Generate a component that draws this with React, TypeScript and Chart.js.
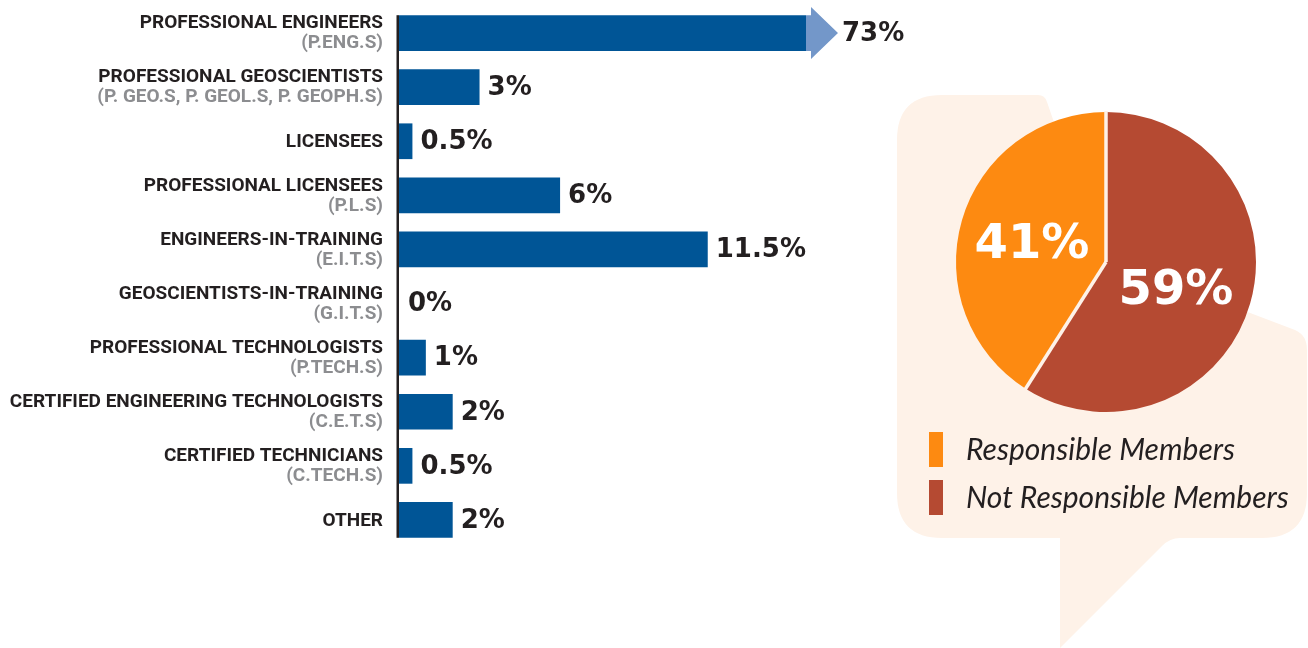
import { useEffect, useRef } from "react";
import { Chart, registerables } from "chart.js";

Chart.register(...registerables);

// ---------- data ----------
const categories = [
  "PROFESSIONAL ENGINEERS",
  "PROFESSIONAL GEOSCIENTISTS",
  "LICENSEES",
  "PROFESSIONAL LICENSEES",
  "ENGINEERS-IN-TRAINING",
  "GEOSCIENTISTS-IN-TRAINING",
  "PROFESSIONAL TECHNOLOGISTS",
  "CERTIFIED ENGINEERING TECHNOLOGISTS",
  "CERTIFIED TECHNICIANS",
  "OTHER",
];
const subLabels = [
  "(P.ENG.S)",
  "(P. GEO.S, P. GEOL.S, P. GEOPH.S)",
  "",
  "(P.L.S)",
  "(E.I.T.S)",
  "(G.I.T.S)",
  "(P.TECH.S)",
  "(C.E.T.S)",
  "(C.TECH.S)",
  "",
];
const values = [73, 3, 0.5, 6, 11.5, 0, 1, 2, 0.5, 2];
const axisMax = 15.16; // visible part of the axis; larger bars are broken with an arrow

const pieLabels = ["Responsible Members", "Not Responsible Members"];
const pieValues = [41, 59];

// ---------- styles ----------
const BLUE = "#005596";
const ARROW_BLUE = "#7397c9";
const DARK = "#231f20";
const GREY = "#8c8d90";
const ORANGE = "#fd8a11";
const RED = "#b54a32";
const BUBBLE = "#fef2e8";
const pieColors = [ORANGE, RED];

const barDecorPlugin = {
  id: "barDecor",
  afterDatasetsDraw(chart: any) {
    const ctx: CanvasRenderingContext2D = chart.ctx;
    const area = chart.chartArea;
    const meta = chart.getDatasetMeta(0);
    const bars = meta.data;
    const first = bars[0];
    const last = bars[bars.length - 1];
    ctx.save();
    // axis line
    ctx.fillStyle = DARK;
    const top = first.y - first.height / 2;
    const bottom = last.y + last.height / 2;
    ctx.fillRect(area.left - 2.5, top, 2.5, bottom - top);

    bars.forEach((bar: any, i: number) => {
      let end = Math.max(bar.x, area.left + 1);
      const h = bar.height;
      if (bar.x > area.right) {
        // broken bar arrow
        const x0 = area.right;
        ctx.fillStyle = ARROW_BLUE;
        ctx.beginPath();
        ctx.moveTo(x0, bar.y - h / 2);
        ctx.lineTo(x0 + 5, bar.y - h / 2);
        ctx.lineTo(x0 + 5, bar.y - 26);
        ctx.lineTo(x0 + 32, bar.y);
        ctx.lineTo(x0 + 5, bar.y + 26);
        ctx.lineTo(x0 + 5, bar.y + h / 2);
        ctx.lineTo(x0, bar.y + h / 2);
        ctx.closePath();
        ctx.fill();
        end = x0 + 28;
      }
      ctx.fillStyle = DARK;
      ctx.font = "bold 26px 'DejaVu Sans'";
      ctx.textAlign = "left";
      ctx.textBaseline = "middle";
      ctx.fillText(`${values[i]}%`, end + 8, bar.y + 1);

      // category labels
      const lx = area.left - 16;
      ctx.textAlign = "right";
      ctx.font = "bold 19px Roboto";
      if (subLabels[i]) {
        ctx.fillStyle = DARK;
        ctx.fillText(categories[i], lx, bar.y - 9.5);
        ctx.fillStyle = GREY;
        ctx.fillText(subLabels[i], lx, bar.y + 10.5);
      } else {
        ctx.fillStyle = DARK;
        ctx.fillText(categories[i], lx, bar.y + 1);
      }
    });
    ctx.restore();
  },
};

const bubblePlugin = {
  id: "bubble",
  beforeDraw(chart: any) {
    const ctx: CanvasRenderingContext2D = chart.ctx;
    const L = 17, T = 95, R = 427, B = 538, r = 45;
    ctx.save();
    ctx.fillStyle = BUBBLE;
    ctx.beginPath();
    ctx.moveTo(L, T + r);
    ctx.quadraticCurveTo(L, T, L + r, T);
    ctx.lineTo(158, T);
    ctx.quadraticCurveTo(165, T, 167, 102);
    ctx.lineTo(220, 256);
    ctx.lineTo(415, 330);
    ctx.quadraticCurveTo(R, 335, R, 350);
    ctx.lineTo(R, B - r);
    ctx.quadraticCurveTo(R, B, R - r, B);
    ctx.lineTo(300, B);
    ctx.quadraticCurveTo(290, B, 282, 546);
    ctx.lineTo(180, 648);
    ctx.lineTo(180, B);
    ctx.lineTo(L + r, B);
    ctx.quadraticCurveTo(L, B, L, B - r);
    ctx.closePath();
    ctx.fill();
    ctx.restore();
  },
  afterDatasetsDraw(chart: any) {
    const ctx: CanvasRenderingContext2D = chart.ctx;
    const meta = chart.getDatasetMeta(0);
    const vals = chart.data.datasets[0].data;
    ctx.save();
    // slice separators
    ctx.strokeStyle = BUBBLE;
    ctx.lineWidth = 3.5;
    meta.data.forEach((arc: any) => {
      ctx.beginPath();
      ctx.moveTo(arc.x, arc.y);
      ctx.lineTo(
        arc.x + Math.cos(arc.startAngle) * (arc.outerRadius + 1),
        arc.y + Math.sin(arc.startAngle) * (arc.outerRadius + 1)
      );
      ctx.stroke();
    });
    ctx.fillStyle = "#ffffff";
    ctx.font = "bold 48px 'DejaVu Sans'";
    ctx.textAlign = "center";
    ctx.textBaseline = "middle";
    meta.data.forEach((arc: any, i: number) => {
      const p = arc.tooltipPosition();
      ctx.fillText(`${vals[i]}%`, p.x - 2, p.y + (i === 0 ? 9 : 4));
    });
    // legend
    ctx.textAlign = "left";
    ctx.font = "italic 30px Lato";
    pieLabels.forEach((lab, i) => {
      const y = 432 + i * 48;
      ctx.fillStyle = pieColors[i];
      ctx.fillRect(49, y, 14, 35);
      ctx.fillStyle = DARK;
      ctx.fillText(lab, 86, y + 18);
    });
    ctx.restore();
  },
};

export default function App() {
  const barRef = useRef<HTMLCanvasElement>(null);
  const pieRef = useRef<HTMLCanvasElement>(null);

  useEffect(() => {
    const bar = new Chart(barRef.current!, {
      type: "bar",
      data: {
        labels: categories,
        datasets: [
          {
            data: values,
            backgroundColor: BLUE,
            borderWidth: 0,
            categoryPercentage: 1,
            barPercentage: 0.66,
            clip: 0,
          } as any,
        ],
      },
      options: {
        indexAxis: "y",
        responsive: false,
        animation: false,
        devicePixelRatio: 1,
        layout: { padding: { left: 399, right: 114, top: 6, bottom: 13 } },
        scales: {
          x: { display: false, min: 0, max: axisMax },
          y: { display: false },
        },
        plugins: { legend: { display: false }, tooltip: { enabled: false } },
      },
      plugins: [barDecorPlugin],
    });

    const pie = new Chart(pieRef.current!, {
      type: "pie",
      data: {
        labels: [pieLabels[1], pieLabels[0]],
        datasets: [
          {
            data: [pieValues[1], pieValues[0]],
            backgroundColor: [pieColors[1], pieColors[0]],
            borderWidth: 0,
          } as any,
        ],
      },
      options: {
        responsive: false,
        animation: false,
        devicePixelRatio: 1,
        layout: { padding: { left: 76, top: 112, right: 52, bottom: 236 } },
        plugins: { legend: { display: false }, tooltip: { enabled: false } },
      },
      plugins: [bubblePlugin],
    });

    return () => {
      bar.destroy();
      pie.destroy();
    };
  }, []);

  return (
    <div style={{ position: "absolute", left: 0, top: 0, width: 1308, height: 648, background: "#fff" }}>
      <canvas ref={barRef} width={920} height={560} style={{ position: "absolute", left: 0, top: 0 }} />
      <canvas ref={pieRef} width={428} height={648} style={{ position: "absolute", left: 880, top: 0 }} />
    </div>
  );
}
